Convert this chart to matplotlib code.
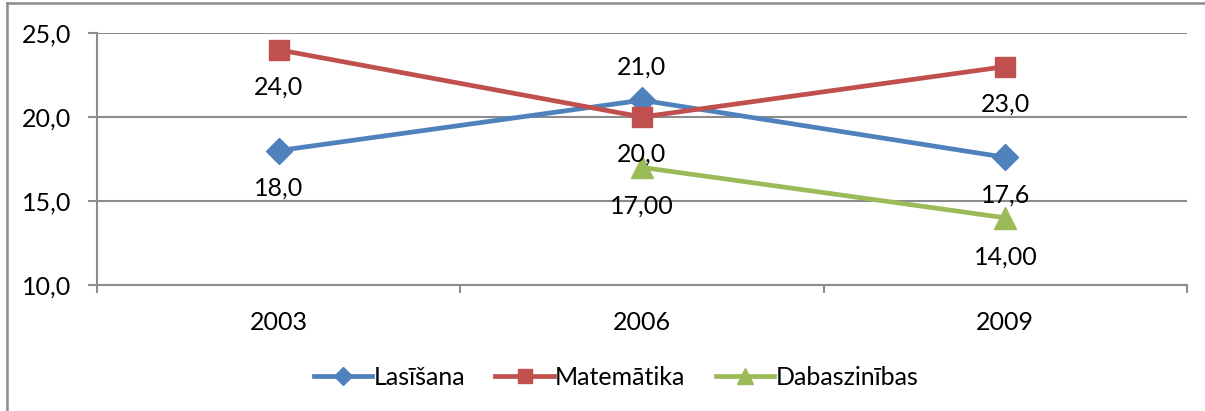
import matplotlib
matplotlib.use("Agg")
import matplotlib.pyplot as plt
from matplotlib.lines import Line2D
import numpy as np

years = ["2003", "2006", "2009"]
lasisana = [18.0, 21.0, 17.6]
matematika = [24.0, 20.0, 23.0]
dabaszinibas = [np.nan, 17.0, 14.0]
series_names = ["Lasīšana", "Matemātika", "Dabaszinības"]
y_ticks = [10.0, 15.0, 20.0, 25.0]

plt.rcParams['font.family'] = ['Lato', 'DejaVu Sans']

W, H = 1205, 411
fig = plt.figure(figsize=(W / 100, H / 100), dpi=100)
ax = fig.add_axes([97 / W, 1 - 285 / H, (1187 - 97) / W, (285 - 33) / H])

grid_c = "#8c8c8c"
blue, red, green = "#4F81BD", "#C0504D", "#9BBB59"
x = np.arange(len(years))

ax.plot(x, lasisana, color=blue, lw=3.4, marker="D", ms=13, label=series_names[0], zorder=3)
ax.plot(x, matematika, color=red, lw=3.4, marker="s", ms=14.5, label=series_names[1], zorder=3)
ax.plot(x, dabaszinibas, color=green, lw=3.4, marker="^", ms=16, label=series_names[2], zorder=3)

fs = 18
def fmt(v, d):
    return f"{v:.{d}f}".replace(".", ",")

# data labels
for i, v in enumerate(lasisana):
    if i == 1:
        ax.annotate(fmt(v, 1), (x[i], v), xytext=(0, 24), textcoords="offset points",
                    ha="center", va="center", fontsize=fs, zorder=4)
    else:
        ax.annotate(fmt(v, 1), (x[i], v), xytext=(0, -27), textcoords="offset points",
                    ha="center", va="center", fontsize=fs, zorder=4)
for i, v in enumerate(matematika):
    ax.annotate(fmt(v, 1), (x[i], v), xytext=(0, -27), textcoords="offset points",
                ha="center", va="center", fontsize=fs, zorder=4)
for i, v in enumerate(dabaszinibas):
    if not np.isnan(v):
        ax.annotate(fmt(v, 2), (x[i], v), xytext=(0, -28), textcoords="offset points",
                    ha="center", va="center", fontsize=fs, zorder=4)

ax.set_xlim(-0.5, len(years) - 0.5)
ax.set_ylim(10, 25)
ax.set_yticks(y_ticks)
ax.set_yticklabels([fmt(v, 1) for v in y_ticks], fontsize=fs)
ax.set_xticks(x)
ax.set_xticklabels(years, fontsize=fs)
ax.set_xticks(np.arange(-0.5, len(years)), minor=True)
ax.tick_params(axis="x", which="major", length=0, pad=19)
ax.tick_params(axis="x", which="minor", length=6, width=1.5, color=grid_c, direction="out")
ax.tick_params(axis="y", length=6.5, width=1.5, color=grid_c, direction="out", pad=12)

ax.grid(axis="y", color=grid_c, lw=1.5)
ax.set_axisbelow(True)
for s in ["top", "right"]:
    ax.spines[s].set_visible(False)
ax.spines["left"].set_color(grid_c)
ax.spines["left"].set_linewidth(1.5)
ax.spines["bottom"].set_color(grid_c)
ax.spines["bottom"].set_linewidth(1.5)

leg = fig.legend(loc="center", bbox_to_anchor=(616 / W, 1 - 377 / H), ncol=3, frameon=False,
                 fontsize=fs, handlelength=2.35, columnspacing=1.2, handletextpad=0.05,
                 markerscale=0.72)

# outer frame (top and left edges visible)
fig.add_artist(Line2D([6.5 / W, 1.0], [1 - 3.5 / H, 1 - 3.5 / H], color=grid_c, lw=1.8,
                      transform=fig.transFigure))
fig.add_artist(Line2D([6.5 / W, 6.5 / W], [0, 1 - 3.5 / H], color=grid_c, lw=1.8,
                      transform=fig.transFigure))

fig.savefig("out.png", dpi=100)
